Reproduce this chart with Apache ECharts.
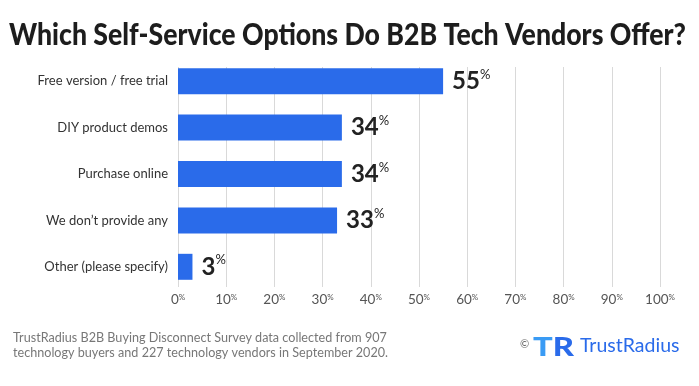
<!DOCTYPE html>
<html>
<head>
<meta charset="utf-8">
<script src="https://cdn.jsdelivr.net/npm/echarts@6/dist/echarts.min.js"></script>
<style>html,body{margin:0;padding:0;background:#fff}#c{width:699px;height:386px}</style>
</head>
<body>
<div id="c"></div>
<script>
const categories = ["Free version / free trial", "DIY product demos", "Purchase online", "We don\u2019t provide any", "Other (please specify)"];
const values = [55, 34, 34, 33, 3];
const tickValues = [0, 10, 20, 30, 40, 50, 60, 70, 80, 90, 100];
const titleText = "Which Self-Service Options Do B2B Tech Vendors Offer?";
const footLine1 = "TrustRadius B2B Buying Disconnect Survey data collected from 907";
const footLine2 = "technology buyers and 227 technology vendors in September 2020.";

function measure(font, text) {
  const ctx = document.createElement('canvas').getContext('2d');
  ctx.font = font;
  return ctx.measureText(text).width;
}
const TITLE_FONT = '900 30px Lato';
const titleScale = 677 / measure(TITLE_FONT, titleText);
const trScale = 41 / measure('900 27px Lato', 'TR');
const FOOT_FONT = '13.5px Lato';
const footScale = 375 / measure(FOOT_FONT, footLine2);

const chart = echarts.init(document.getElementById('c'), null, {renderer: 'canvas'});
const BLUE = '#2a6bea';
chart.setOption({
  animation: false,
  backgroundColor: '#fff',
  grid: [
    {left: 178, right: 39, top: 58, bottom: 96},
    {left: 178, right: 39, top: 67, bottom: 99}
  ],
  xAxis: [
    {gridIndex: 0, type: 'value', min: 0, max: 100, interval: 10,
     axisLine: {show: false}, axisTick: {show: false}, splitLine: {show: false}, axisLabel: {show: false}},
    {gridIndex: 1, type: 'value', min: 0, max: 100, interval: 10,
     axisLine: {show: false}, axisTick: {show: false},
     splitLine: {show: true, lineStyle: {color: '#d9d9d9', width: 1}},
     axisLabel: {show: true, margin: 6, fontFamily: 'Lato', color: '#555',
       formatter: v => '{n|' + v + '}{p|%}',
       rich: {n: {fontSize: 13.5, fontFamily: 'Lato', color: '#555', lineHeight: 14},
              p: {fontSize: 8, fontFamily: 'Lato', color: '#555', verticalAlign: 'top', lineHeight: 14}}}}
  ],
  yAxis: [
    {gridIndex: 0, type: 'category', data: categories, inverse: true,
     axisLine: {show: false}, axisTick: {show: false}, splitLine: {show: false},
     axisLabel: {margin: 10, fontFamily: 'Lato', fontSize: 13, color: '#333'}},
    {gridIndex: 1, type: 'value', show: false}
  ],
  series: [{
    type: 'bar', xAxisIndex: 0, yAxisIndex: 0, data: values,
    barCategoryGap: '44%',
    itemStyle: {color: BLUE},
    label: {show: true, position: 'right', distance: 9,
      formatter: p => '{v|' + p.value + '}{p|%}',
      rich: {v: {fontSize: 24, fontFamily: 'Lato', fontWeight: 'bold', color: '#222', lineHeight: 26},
             p: {fontSize: 13, fontFamily: 'Lato', color: '#222', verticalAlign: 'top', lineHeight: 26}}}
  }],
  graphic: [
    {type: 'text', x: 347.5, y: 35, scaleX: titleScale, style: {text: titleText, font: TITLE_FONT, fill: '#1d1d1d', align: 'center', verticalAlign: 'middle'}},
    {type: 'text', x: 13, y: 338, scaleX: footScale, style: {text: footLine1, font: FOOT_FONT, fill: '#777', verticalAlign: 'middle'}},
    {type: 'text', x: 13, y: 353, scaleX: footScale, style: {text: footLine2, font: FOOT_FONT, fill: '#777', verticalAlign: 'middle'}},
    {type: 'text', left: 520, top: 339, style: {text: '\u00a9', fontFamily: 'Lato', fontSize: 11, fill: '#666'}},
    {type: 'text', x: 533, y: 347, scaleX: trScale, style: {text: '{t|T}{r|R}', verticalAlign: 'middle', rich: {
      t: {fontFamily: 'Lato', fontWeight: 900, fontSize: 27, fill: '#3a9bf4'},
      r: {fontFamily: 'Lato', fontWeight: 900, fontSize: 27, fill: '#2a6bea'}}}},
    {type: 'text', left: 580, top: 336, style: {text: 'TrustRadius', fontFamily: 'Lato', fontSize: 19.5, fill: '#2a6bea'}}
  ]
});
</script>
</body>
</html>
